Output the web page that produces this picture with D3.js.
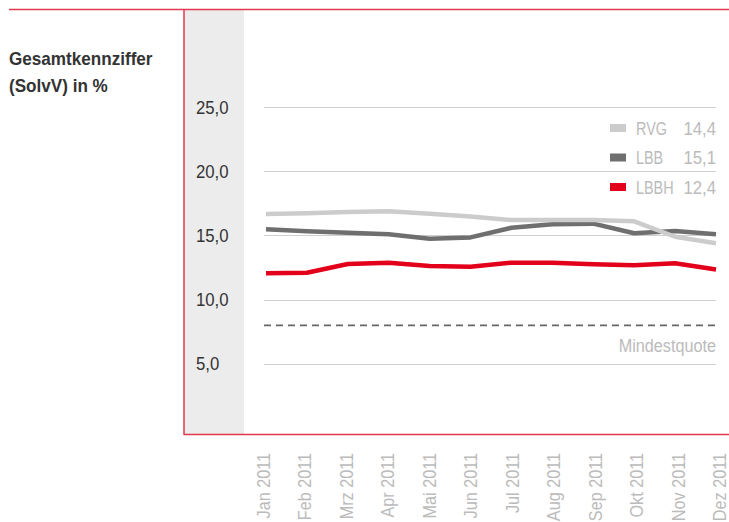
<!DOCTYPE html>
<html><head><meta charset="utf-8">
<script src="https://cdn.jsdelivr.net/npm/d3@7"></script>
<style>
body{margin:0;background:#fff;}
svg{display:block;font-family:"Liberation Sans Narrow","Liberation Sans",Arial,sans-serif;}
</style></head>
<body><svg id="chart" width="729" height="522"></svg>
<script>
const months = ["Jan 2011","Feb 2011","Mrz 2011","Apr 2011","Mai 2011","Jun 2011","Jul 2011","Aug 2011","Sep 2011","Okt 2011","Nov 2011","Dez 2011"];
const rvg  = [16.67,16.73,16.83,16.88,16.70,16.48,16.20,16.20,16.20,16.10,14.90,14.40];
const lbb  = [15.48,15.33,15.22,15.09,14.75,14.85,15.60,15.87,15.92,15.17,15.35,15.10];
const lbbh = [12.06,12.10,12.78,12.88,12.63,12.57,12.88,12.88,12.76,12.68,12.84,12.35];
const seriesNames = ["RVG","LBB","LBBH"];
const seriesLabels = ["14,4","15,1","12,4"];
const seriesColors = ["#cccccc","#6f6f6f","#e2001a"];
const yTicks = [5,10,15,20,25];
const minQuote = 8;
const titleLines = ["Gesamtkennziffer","(SolvV) in %"];

const svg = d3.select("#chart");
const red = "#e03a4e";
// condense text horizontally (no condensed font available)
function condense(sel, k){
  sel.each(function(){
    const w = this.getComputedTextLength();
    d3.select(this).attr("textLength", w*k).attr("lengthAdjust","spacingAndGlyphs");
  });
}

// frame
svg.append("rect").attr("x",184).attr("y",10).attr("width",60).attr("height",425).attr("fill","#ececec");
svg.append("line").attr("x1",9).attr("x2",729).attr("y1",9.5).attr("y2",9.5).attr("stroke",red).attr("stroke-width",1.5);
svg.append("line").attr("x1",184).attr("x2",184).attr("y1",9).attr("y2",435).attr("stroke",red).attr("stroke-width",1.5);
svg.append("line").attr("x1",184).attr("x2",729).attr("y1",434.5).attr("y2",434.5).attr("stroke",red).attr("stroke-width",1.5);

// title
svg.append("g").selectAll("text").data(titleLines).join("text")
  .attr("x",9).attr("y",(d,i)=>65+i*27)
  .attr("font-weight","bold").attr("font-size",19).attr("fill","#333").text(d=>d)
  .call(condense,0.9);

const x = d3.scalePoint().domain(months).range([266,716]);
const xl = d3.scalePoint().domain(months).range([266.5,723]);
const y = d3.scaleLinear().domain([0,25]).range([428.2,107]);

// gridlines
svg.append("g").selectAll("line").data(yTicks).join("line")
  .attr("x1",264).attr("x2",716).attr("y1",d=>Math.round(y(d))+0.5).attr("y2",d=>Math.round(y(d))+0.5)
  .attr("stroke","#cfcfcf").attr("stroke-width",1);

// y tick labels
const fmt = v => d3.format(".1f")(v).replace(".",",");
svg.append("g").selectAll("text").data(yTicks).join("text")
  .attr("x",196).attr("y",d=>y(d)+6.5)
  .attr("font-size",18).attr("fill","#333").text(fmt)
  .call(condense,0.93);

// min quote
svg.append("line").attr("x1",264).attr("x2",716).attr("y1",y(minQuote)).attr("y2",y(minQuote))
  .attr("stroke","#666").attr("stroke-width",1.6).attr("stroke-dasharray","7,5");
svg.append("text").attr("x",716).attr("y",352).attr("text-anchor","end")
  .attr("font-size",18).attr("fill","#bbb").text("Mindestquote")
  .call(condense,0.9);

// lines
const line = d3.line().x((d,i)=>x(months[i])).y(d=>y(d));
const data = [lbb, rvg, lbbh];
const cols = [seriesColors[1], seriesColors[0], seriesColors[2]];
svg.append("g").selectAll("path").data(data).join("path")
  .attr("d",line).attr("fill","none").attr("stroke",(d,i)=>cols[i])
  .attr("stroke-width",4.5).attr("stroke-linejoin","round");

// legend
const lg = svg.append("g").selectAll("g").data(seriesNames).join("g")
  .attr("transform",(d,i)=>`translate(0,${128+i*29.5})`);
lg.append("rect").attr("x",610).attr("y",-4).attr("width",16).attr("height",8).attr("fill",(d,i)=>seriesColors[i]);
lg.append("text").attr("x",636).attr("y",6.5).attr("font-size",18).attr("fill","#bbb").text(d=>d)
  .call(condense,0.8);
lg.append("text").attr("x",716).attr("y",6.5).attr("text-anchor","end").attr("font-size",18).attr("fill","#bbb").text((d,i)=>seriesLabels[i])
  .call(condense,0.93);

// x labels
svg.append("g").selectAll("text").data(months).join("text")
  .attr("transform",d=>`translate(${xl(d)-3},453) rotate(-90)`)
  .attr("text-anchor","end").attr("dy","0.35em")
  .attr("font-size",18).attr("fill","#bbb").text(d=>d)
  .call(condense,0.9);
</script></body></html>
